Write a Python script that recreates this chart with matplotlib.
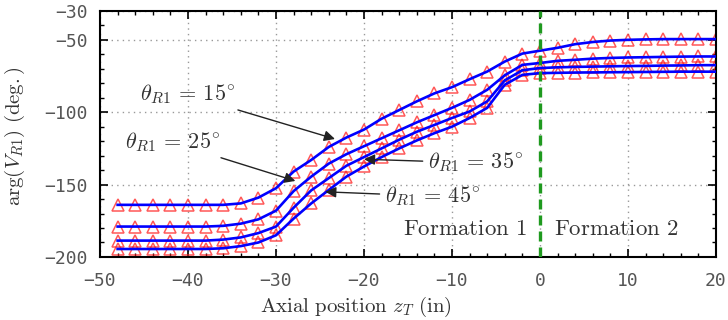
import matplotlib; matplotlib.use("Agg")
import matplotlib.pyplot as plt
import numpy as np

plt.rcParams.update({"font.family": "DejaVu Sans", "mathtext.fontset": "cm"})

BLUE = "#0000ff"; RED = "#ff2020"; GREEN = "#1f9a1f"; GRAY = "#555555"; INK = "#333333"

# axial position of samples (in)
z = np.arange(-48, 21, 2)

# arg(V_R1) in degrees, one list per receiver angle
phase_15 = [-164, -164, -164, -164, -164, -164, -164, -163, -159, -152.5, -141, -133, -124, -117.5,
            -112, -104.5, -98.5, -92.5, -87, -82.7, -77.2, -71.9, -65, -59.5, -57.5, -55.5, -53,
            -51.5, -50.5, -50, -49.7, -49.5, -49.5, -49.5, -49.5]
phase_25 = [-179, -179, -179, -179, -179, -179, -178.5, -177, -174, -168, -154.5, -144.5, -135.5,
            -129, -123.5, -118, -112.5, -107, -102, -97, -91.5, -84.5, -74.5, -67.3, -66, -64.5,
            -63.8, -63, -62.5, -62.2, -62, -61.8, -61.6, -61.5, -61.5]
phase_35 = [-188.7, -188.7, -188.7, -188.7, -188.7, -188.7, -188, -186.5, -183.5, -179, -166, -154,
            -145.5, -137, -131, -125, -119, -113.5, -108.8, -104, -99.5, -92.5, -78, -71, -69.5,
            -69, -68.7, -68.5, -68.3, -68.1, -68, -67.8, -67.7, -67.5, -67.5]
phase_45 = [-194.5, -194.5, -194.5, -194.5, -194.5, -194.5, -194, -192.5, -190, -185, -173.5, -163,
            -153.7, -144.5, -137.5, -131, -125, -119.5, -114.5, -110, -104, -97, -81, -74.2, -73,
            -72.8, -72.6, -72.5, -72.4, -72.3, -72.2, -72.1, -72, -72, -72]
curves = [phase_15, phase_25, phase_35, phase_45]

yticks = [-200, -150, -100, -50, -30]

fig = plt.figure(figsize=(7.28, 3.2), dpi=100)
ax = fig.add_axes([0.1374, 0.197, 0.8461, 0.769])

for ph in curves:
    ax.plot(z, ph, ls="none", marker="^", ms=8, mfc="none", mec=RED, mew=1.1, alpha=0.75, zorder=2)
    ax.plot(z, ph, color=BLUE, lw=1.9, zorder=3)

ax.axvline(0, color=GREEN, lw=2.4, dashes=(3, 1.8), zorder=4)

ax.set_xlim(-50, 20); ax.set_ylim(-200, -30)
ax.set_xticks(np.arange(-50, 21, 10)); ax.set_xticks(np.arange(-50, 21, 2), minor=True)
ax.set_yticks(yticks); ax.set_yticks(np.arange(-200, -29, 10), minor=True)
ax.tick_params(which="both", direction="in", top=True, right=True, colors="black",
               labelcolor=GRAY, labelsize=13)
ax.tick_params(axis="x", which="both", pad=11)
ax.tick_params(axis="y", which="both", pad=9)
ax.tick_params(which="major", length=6, width=1.2)
ax.tick_params(which="minor", length=3, width=1.0)
for lbl in ax.get_xticklabels() + ax.get_yticklabels():
    lbl.set_fontfamily("DejaVu Sans Mono")
for s in ax.spines.values(): s.set_linewidth(1.5)
ax.grid(True, which="major", color="#999999", lw=1.0, ls=(0, (1, 3)))
ax.set_axisbelow(True)

ax.set_xlabel(r"$\mathrm{Axial\ position}\ z_T\ \mathrm{(in)}$", fontsize=15, color=INK)
ax.xaxis.set_label_coords(0.416, -0.155)
ax.set_ylabel(r"$\mathrm{arg}(V_{R1})\ \mathrm{(deg.)}$", fontsize=15, color=INK)
ax.yaxis.set_label_coords(-0.118, 0.49)

arrow = dict(arrowstyle="-|>", color="#222222", lw=1.0, mutation_scale=16, shrinkA=2, shrinkB=0)
kw = dict(fontsize=16, va="center", ha="left", color=INK, arrowprops=arrow)
ax.annotate(r"$\theta_{R1}\,=\,15^{\!\circ}$", xy=(-23.3, -118.5), xytext=(-45.5, -88), **kw)
ax.annotate(r"$\theta_{R1}\,=\,25^{\!\circ}$", xy=(-27.8, -147.5), xytext=(-47.2, -121), **kw)
ax.annotate(r"$\theta_{R1}\,=\,35^{\!\circ}$", xy=(-20.0, -132.5), xytext=(-12.7, -135), **kw)
ax.annotate(r"$\theta_{R1}\,=\,45^{\!\circ}$", xy=(-24.4, -155), xytext=(-17.6, -158), **kw)

ax.text(-8.6, -180, r"$\mathrm{Formation\ 1}$", fontsize=16.5, ha="center", va="center", color=INK)
ax.text(8.6, -180, r"$\mathrm{Formation\ 2}$", fontsize=16.5, ha="center", va="center", color=INK)

fig.savefig("out.png", dpi=100, facecolor="white")
